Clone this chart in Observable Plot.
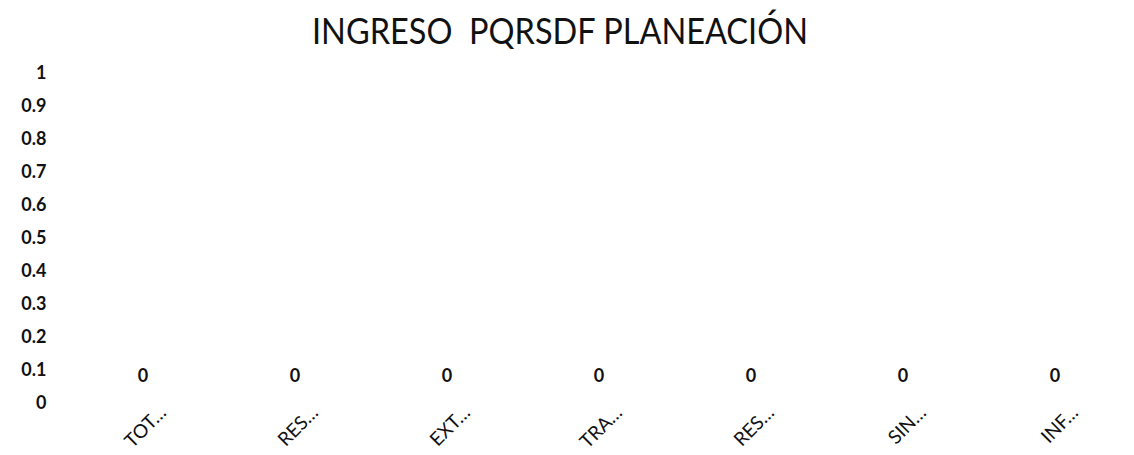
<!DOCTYPE html>
<html>
<head>
<meta charset="utf-8">
<script src="https://cdn.jsdelivr.net/npm/d3@7"></script>
<script src="https://cdn.jsdelivr.net/npm/@observablehq/plot@0.6"></script>
<style>
  html, body { margin: 0; padding: 0; background: #fff; }
  #wrap { position: relative; width: 1134px; height: 455px; overflow: hidden; }
  #title { position: absolute; left: 312px; top: 8px; height: 50px; margin: 0;
           font-family: Lato, "Open Sans", sans-serif; font-weight: 400; font-size: 36px;
           color: #111; white-space: pre; transform-origin: 0 0; line-height: 44px; }
  #chart { position: absolute; left: 0; top: 60px; }
</style>
</head>
<body>
<div id="wrap">
  <div id="title">INGRESO  PQRSDF PLANEACIÓN</div>
  <div id="chart"></div>
</div>
<script>
const titleText = "INGRESO  PQRSDF PLANEACIÓN";
const labels = ["TOT…", "RES…", "EXT…", "TRA…", "RES…", "SIN…", "INF…"];
const values = [0, 0, 0, 0, 0, 0, 0];
const yTicks = [0, 0.1, 0.2, 0.3, 0.4, 0.5, 0.6, 0.7, 0.8, 0.9, 1];

const data = labels.map((label, i) => ({ i, label, value: values[i] }));

// fit title width to reference
const t = document.getElementById("title");
t.textContent = titleText;
const w = t.getBoundingClientRect().width;
t.style.transform = `scaleX(${496 / w})`;

const chart = Plot.plot({
  width: 1134,
  height: 395,
  marginTop: 13,
  marginBottom: 52,
  marginLeft: 67,
  marginRight: 3,
  style: { fontFamily: "Lato, 'Open Sans', sans-serif", color: "#111", background: "transparent" },
  x: { type: "band", domain: d3.range(labels.length), paddingInner: 0.4, paddingOuter: 0.2 },
  y: { domain: [0, 1] },
  marks: [
    Plot.barY(data, { x: "i", y: "value", fill: "#4472c4" }),
    Plot.text(data, { x: "i", y: "value", text: d => String(d.value), dy: -27,
                      fontSize: 18, fontWeight: "bold", fill: "#111" }),
    Plot.axisY({ ticks: yTicks, tickSize: 0, tickPadding: 21, label: null,
                 tickFormat: d => String(d), fontSize: 18, fontWeight: "bold" }),
    Plot.axisX({ tickSize: 0, tickPadding: 6, tickRotate: -45, label: null,
                 tickFormat: i => labels[i], fontSize: 19, dx: 20, dy: 0 })
  ]
});
document.getElementById("chart").appendChild(chart);
</script>
</body>
</html>
